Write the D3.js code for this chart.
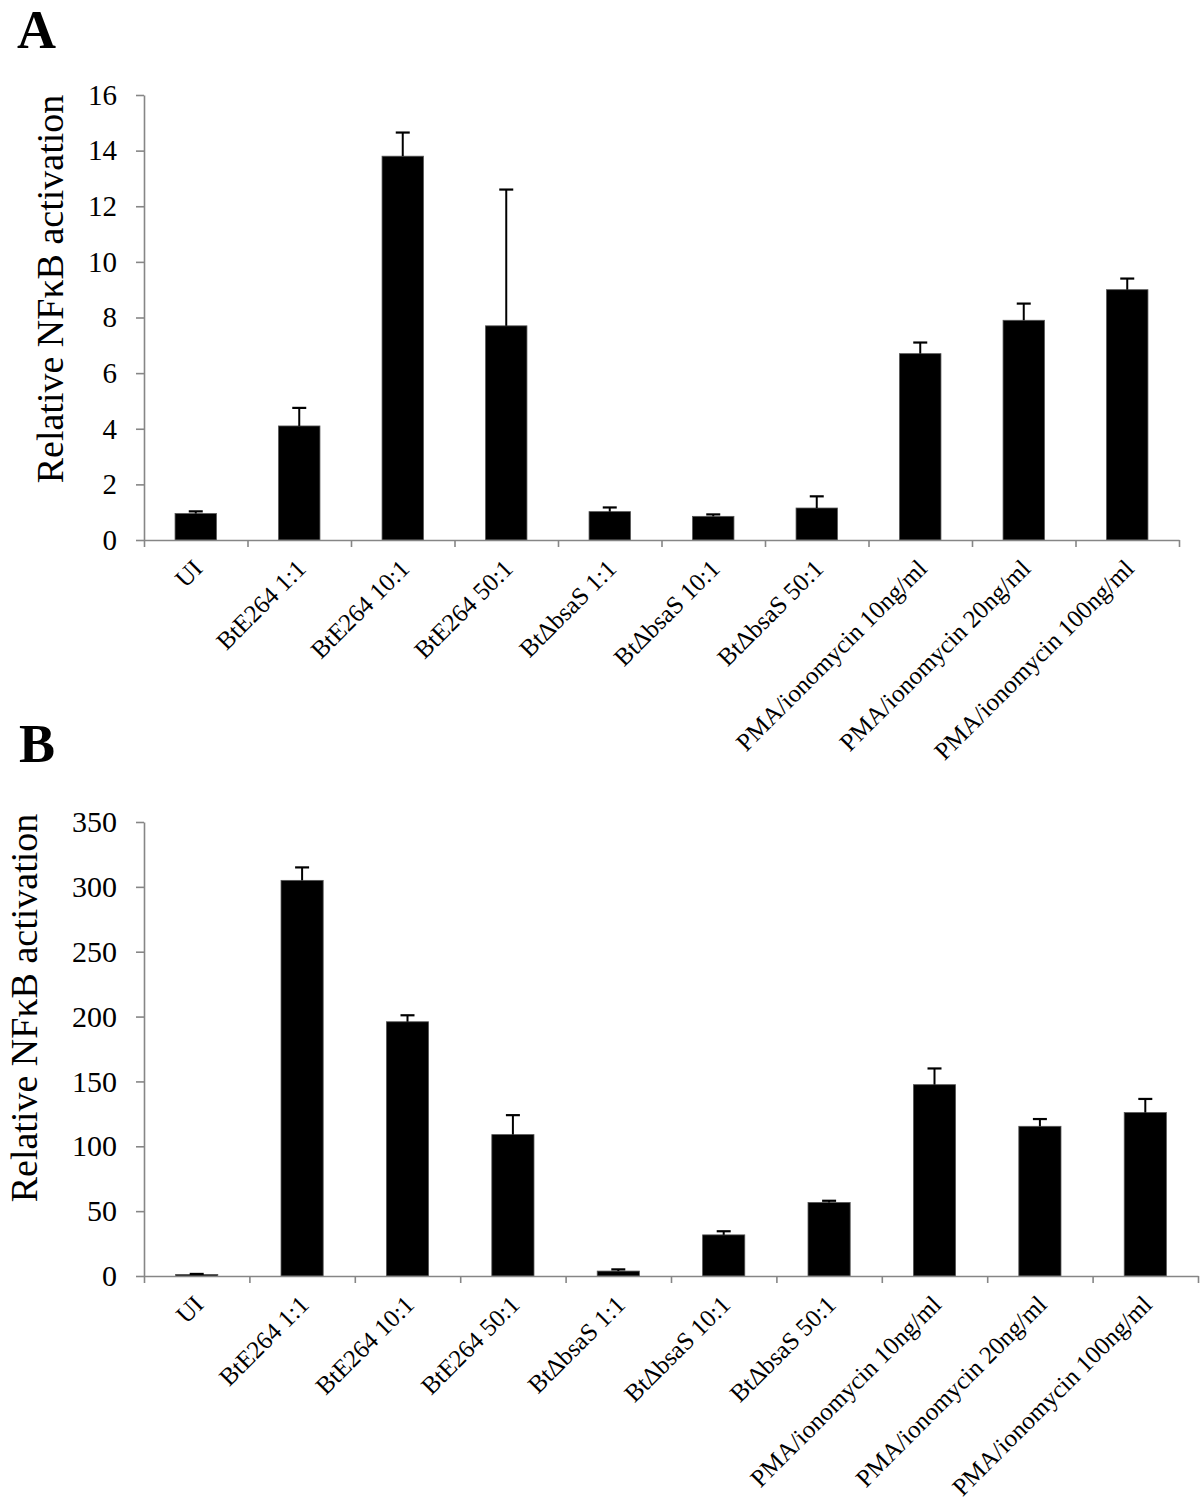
<!DOCTYPE html>
<html>
<head>
<meta charset="utf-8">
<script src="https://cdn.jsdelivr.net/npm/d3@7"></script>
<style>
  body { margin: 0; background: #fff; }
  svg { display: block; font-family: "Liberation Serif", "Times New Roman", serif; }
</style>
</head>
<body>
<svg id="chart" width="1200" height="1501"></svg>
<script>
// ---------- data ----------
const categories = [
  "UI", "BtE264 1:1", "BtE264 10:1", "BtE264 50:1",
  "Bt\u0394bsaS 1:1", "Bt\u0394bsaS 10:1", "Bt\u0394bsaS 50:1",
  "PMA/ionomycin 10ng/ml", "PMA/ionomycin 20ng/ml", "PMA/ionomycin 100ng/ml"
];
const valuesA = [0.95, 4.1, 13.8, 7.7, 1.02, 0.85, 1.15, 6.7, 7.9, 9.0];
const errTopA = [1.03, 4.75, 14.65, 12.6, 1.17, 0.92, 1.57, 7.1, 8.5, 9.4];
const ticksA = [0, 2, 4, 6, 8, 10, 12, 14, 16];

const valuesB = [1.2, 305, 196, 109, 3.8, 31.7, 56.7, 147.5, 115.4, 126];
const errTopB = [1.6, 315, 201, 124, 5.1, 34.5, 58, 160, 121, 136.5];
const ticksB = [0, 50, 100, 150, 200, 250, 300, 350];

const yTitle = "Relative NF\u03BAB activation";

// ---------- drawing ----------
const svg = d3.select("#chart");
const axisColor = "#868686";

function panel(cfg) {
  const g = svg.append("g");
  const x = d3.scaleBand().domain(categories)
    .range([cfg.left, cfg.right]).paddingInner(0.6).paddingOuter(0.3);
  const y = d3.scaleLinear().domain([0, cfg.max]).range([cfg.bottom, cfg.top]);
  const xt = d3.scaleLinear().domain([0, categories.length]).range([cfg.left, cfg.right]);

  // bars
  g.selectAll("rect.bar").data(cfg.values).join("rect")
    .attr("class", "bar")
    .attr("x", (d, i) => x(categories[i]))
    .attr("width", x.bandwidth())
    .attr("y", d => y(d))
    .attr("height", d => y(0) - y(d))
    .attr("fill", "#000")
    .attr("stroke", "#555")
    .attr("stroke-width", 0.8);

  // error bars (upper only)
  const cap = 14;
  cfg.err.forEach((e, i) => {
    const cx = x(categories[i]) + x.bandwidth() / 2;
    g.append("line").attr("x1", cx).attr("x2", cx)
      .attr("y1", y(cfg.values[i])).attr("y2", y(e))
      .attr("stroke", "#000").attr("stroke-width", 2);
    g.append("line").attr("x1", cx - cap / 2).attr("x2", cx + cap / 2)
      .attr("y1", y(e)).attr("y2", y(e))
      .attr("stroke", "#000").attr("stroke-width", 2.2);
  });

  // y axis
  const ya = g.append("g").attr("transform", `translate(${cfg.left},0)`)
    .call(d3.axisLeft(y).tickValues(cfg.ticks).tickSize(8).tickSizeOuter(0).tickPadding(19));
  ya.select(".domain").attr("stroke", axisColor).attr("stroke-width", 1.6);
  ya.selectAll(".tick line").attr("stroke", axisColor).attr("stroke-width", 1.6);
  ya.selectAll(".tick text").attr("fill", "#000")
    .style("font-family", "'Liberation Serif', serif").style("font-size", cfg.tickFont + "px");

  // x axis (ticks at band boundaries)
  const xa = g.append("g").attr("transform", `translate(0,${cfg.bottom})`)
    .call(d3.axisBottom(xt).tickValues(d3.range(0, categories.length + 1))
      .tickSize(7).tickSizeOuter(0).tickFormat(""));
  xa.select(".domain").attr("stroke", axisColor).attr("stroke-width", 1.6);
  xa.selectAll(".tick line").attr("stroke", axisColor).attr("stroke-width", 1.6);

  // x labels rotated
  g.selectAll("text.xl").data(categories).join("text")
    .attr("class", "xl")
    .attr("transform", d => {
      const cx = x(d) + x.bandwidth() / 2 + 2;
      return `translate(${cx},${cfg.bottom + 24}) rotate(-45)`;
    })
    .attr("text-anchor", "end")
    .attr("dy", "0.35em")
    .style("font-size", "25px")
    .text(d => d);

  // y title
  g.append("text")
    .attr("transform", `translate(${cfg.titleX},${cfg.titleY}) rotate(-90)`)
    .attr("text-anchor", "middle")
    .style("font-size", "38px")
    .text(yTitle);

  // panel letter
  g.append("text").attr("x", cfg.letterX).attr("y", cfg.letterY)
    .style("font-size", cfg.letterFont + "px").style("font-weight", "bold")
    .text(cfg.letter);
}

panel({
  letter: "A", letterX: 17, letterY: 48, letterFont: 54,
  left: 144, right: 1179, top: 95, bottom: 540, max: 16,
  values: valuesA, err: errTopA, ticks: ticksA, tickFont: 29,
  titleX: 63, titleY: 289
});

panel({
  letter: "B", letterX: 19, letterY: 762, letterFont: 54,
  left: 144, right: 1198, top: 822, bottom: 1276, max: 350,
  values: valuesB, err: errTopB, ticks: ticksB, tickFont: 30,
  titleX: 37, titleY: 1008
});
</script>
</body>
</html>
